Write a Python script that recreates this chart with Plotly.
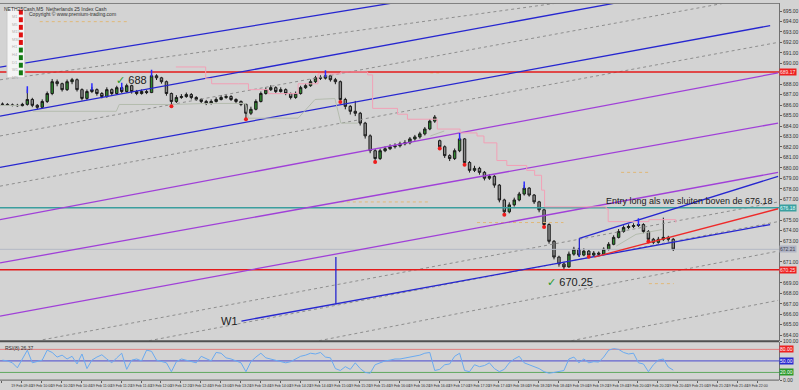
import plotly.graph_objects as go

# ---------------- data ----------------
closes = [686.07, 686.02, 685.98, 685.95, 686.07, 686.54, 685.98, 685.79, 686.35, 687.11,
          688.24, 688.05, 687.48, 688.24, 688.43, 687.48, 686.64, 687.30, 687.48, 687.11,
          686.82, 687.48, 687.11, 687.67, 687.30, 687.86, 687.30, 687.11, 687.30, 687.20,
          688.80, 688.61, 688.24, 687.11, 686.35, 686.73, 686.82, 687.01, 686.73, 686.54,
          686.35, 686.17, 686.35, 686.54, 686.73, 686.82, 686.54, 686.35, 686.07, 685.22,
          685.60, 686.35, 687.11, 687.48, 687.67, 687.30, 687.48, 687.11, 686.73, 687.11,
          687.67, 687.86, 688.24, 688.61, 688.58, 688.80, 688.43, 688.24, 686.54, 685.88,
          685.41, 685.22, 684.28, 683.06, 681.64, 680.89, 681.64, 681.83, 682.02, 682.11,
          682.30, 682.40, 682.77, 682.96, 683.25, 683.72, 684.47, 684.85, 682.02, 681.17,
          680.89, 681.64, 682.77, 680.51, 679.76, 679.95, 679.57, 679.01, 679.19, 678.35,
          676.93, 675.80, 676.46, 676.93, 677.50, 678.06, 677.40, 676.75, 675.99, 674.58,
          672.98, 671.47, 670.81, 670.53, 671.75, 672.22, 671.66, 672.04, 671.66, 671.85,
          671.75, 672.22, 672.69, 673.35, 673.92, 674.30, 674.39, 674.48, 674.58, 673.92,
          673.17, 672.88, 673.17, 673.35, 673.17, 672.22]
highs = [686.25, 686.18, 686.15, 686.12, 686.22, 687.48, 686.70, 686.10, 686.55, 687.30,
         688.50, 688.45, 688.15, 688.45, 688.60, 688.55, 687.60, 687.50, 687.75, 687.60,
         687.25, 687.70, 687.60, 687.85, 687.80, 688.05, 687.95, 687.45, 687.50, 687.45,
         689.05, 688.95, 688.70, 688.35, 687.20, 686.95, 687.05, 687.20, 687.15, 686.85,
         686.65, 686.50, 686.55, 686.75, 686.95, 687.05, 686.95, 686.65, 686.45, 686.15,
         685.85, 686.55, 687.30, 687.70, 687.90, 687.80, 687.70, 687.60, 687.20, 687.30,
         687.85, 688.05, 688.45, 688.80, 688.85, 689.00, 688.90, 688.60, 688.35, 686.70,
         686.00, 686.40, 685.35, 684.40, 683.20, 681.80, 681.85, 682.05, 682.25, 682.35,
         682.50, 682.65, 682.95, 683.15, 683.45, 683.90, 684.65, 685.05, 682.70, 682.15,
         681.30, 681.85, 683.00, 682.85, 680.65, 680.20, 680.10, 679.70, 679.40, 679.30,
         678.45, 677.05, 676.70, 677.15, 677.70, 678.35, 678.15, 677.50, 676.85, 676.10,
         674.70, 673.10, 671.60, 671.00, 672.00, 672.45, 672.35, 672.30, 672.15, 672.05,
         672.00, 672.40, 672.90, 673.55, 674.15, 674.50, 674.60, 674.70, 674.85, 674.70,
         674.05, 673.30, 673.40, 675.24, 673.50, 673.30]
lows = [685.95, 685.92, 685.88, 685.85, 685.88, 685.95, 685.80, 685.60, 685.70, 686.20,
        686.95, 687.80, 687.30, 687.35, 688.00, 687.30, 686.45, 686.50, 687.15, 686.90,
        686.65, 686.70, 686.95, 687.00, 687.15, 687.20, 687.10, 686.95, 687.00, 687.05,
        687.15, 688.40, 688.05, 686.90, 685.88, 686.20, 686.60, 686.70, 686.55, 686.40,
        686.20, 686.00, 686.05, 686.25, 686.45, 686.60, 686.40, 686.15, 685.90, 684.66,
        685.05, 685.50, 686.25, 687.00, 687.35, 687.15, 687.20, 686.95, 686.55, 686.60,
        687.00, 687.55, 687.75, 688.10, 688.40, 688.45, 688.25, 688.00, 686.30, 685.60,
        685.10, 684.95, 684.05, 682.80, 681.40, 680.55, 680.75, 681.50, 681.70, 681.85,
        681.95, 682.15, 682.25, 682.60, 682.80, 683.10, 683.60, 684.30, 681.85, 680.95,
        680.65, 680.75, 681.50, 680.30, 679.55, 679.60, 679.35, 678.80, 678.85, 678.10,
        676.70, 675.52, 675.65, 676.30, 676.80, 677.35, 677.25, 676.55, 675.75, 674.35,
        672.75, 671.25, 670.55, 670.25, 670.45, 671.60, 671.50, 671.55, 671.50, 671.55,
        671.55, 671.65, 672.10, 672.60, 673.25, 673.80, 674.15, 674.25, 674.35, 673.75,
        672.95, 672.70, 672.75, 673.00, 672.95, 672.05]
first_open = 686.10
gap_opens = {88: 682.60}

rsi = [52, 50, 45, 32, 55, 78, 45, 48, 52, 78,
       72, 60, 65, 55, 62, 42, 68, 30, 52, 60,
       66, 55, 45, 58, 70, 28, 52, 55, 50, 78,
       75, 52, 48, 45, 22, 48, 55, 52, 48, 45,
       62, 55, 50, 72, 70, 58, 55, 50, 45, 22,
       48, 60, 70, 58, 55, 52, 50, 45, 48, 55,
       62, 65, 70, 68, 72, 60, 58, 30, 25, 35,
       28, 45, 30, 20, 18, 40, 45, 50, 52, 55,
       55, 58, 60, 62, 65, 70, 72, 25, 28, 40,
       42, 62, 70, 25, 22, 40, 35, 38, 45, 30,
       22, 28, 45, 55, 62, 45, 40, 35, 30, 22,
       18, 20, 22, 25, 55, 60, 45, 55, 45, 48,
       47, 60, 78, 82, 80, 72, 68, 70, 45, 42,
       22, 40, 52, 55, 34, 26]

fractal_up = [5, 18, 24, 30, 65, 92, 105, 128]
fractal_down = [34, 49, 68, 75, 88, 93, 101, 109, 118, 130]

# trend lines: (bar0, price0, bar1, price1)
blue_lines = [(-0.5, 689.64, 156.3, 701.79), (-0.5, 684.94, 156.3, 698.64),
              (-0.5, 680.04, 154.5, 693.60), (48.1, 665.35, 154.5, 674.58),
              (67.1, 671.47, 67.1, 666.95), (116.1, 673.26, 156.1, 679.19),
              (116.1, 673.26, 116.1, 671.47)]
purple_lines = [(-0.5, 675.05, 156.1, 689.08), (-0.5, 670.91, 156.1, 684.28),
                (-0.5, 665.82, 156.1, 679.57)]
red_trend = [(119.1, 671.47, 156.1, 676.09)]
dotted_lines = [(-0.5, 688.42, 156.3, 698.68), (-0.5, 683.05, 156.3, 696.71),
                (-0.5, 678.25, 156.1, 692.00), (8.1, 663.56, 156.1, 676.74),
                (29.5, 663.47, 156.1, 674.86), (63.7, 663.47, 156.1, 672.04),
                (114.5, 663.47, 156.1, 667.33)]
pivot_lines = [(7.5, 693.98, 25.5, 693.98), (86.1, 689.08, 88.1, 689.08),
               (68.1, 676.74, 86.1, 676.74), (124.5, 679.57, 130.1, 679.57),
               (130.1, 668.93, 135.1, 668.93), (95.5, 674.77, 112.9, 674.77)]

pink_x = [34.9, 39.5, 40.9, 42.1, 47.5, 49.5, 53.5, 59.5, 63.5, 68.1, 73.5, 74.5, 79.5,
          81.5, 86.1, 87.5, 92.1, 95.5, 96.9, 99.5, 101.5, 105.5, 107.1, 108.5, 109.1,
          121.5, 121.9, 130.1, 135.5]
pink_p = [689.65, 689.65, 688.52, 688.04, 688.04, 687.48, 687.10, 688.04, 688.99, 689.17,
          688.89, 685.69, 685.13, 684.65, 684.65, 683.71, 683.34, 683.05, 682.39, 680.70,
          680.23, 679.76, 679.29, 677.87, 676.27, 676.08, 674.86, 675.05, 674.77]
base_x = [-0.5, 3.5, None, 6.1, 22.9, 23.5, 34.1, 40.9, 48.9, 49.5, 59.5, 62.9, 66.9,
          68.1, 71.5, None, 86.1, 88.9, None, 123.5, 127.5, 132.9]
base_p = [685.97, 685.97, None, 685.41, 685.41, 686.06, 686.06, 686.16, 686.16, 684.75,
          684.75, 686.54, 686.63, 684.28, 684.28, None, 683.05, 683.52, None, 672.51,
          673.64, 674.11]

level_top = 689.17
level_entry = 676.18
level_bid = 672.21
level_low = 670.25
rsi_levels = [80, 50, 20]

tf_labels = ["M1", "M5", "M15", "M30", "H1", "H4", "D1", "W1", "MN"]
tf_state = ["red", "red", "red", "red", "red", "green", "green", "green", "green"]

time_labels = ["19 Feb 2021", "19 Feb 09:40", "19 Feb 10:00", "19 Feb 10:20", "19 Feb 10:40",
               "19 Feb 11:00", "19 Feb 11:20", "19 Feb 11:40", "19 Feb 12:00", "19 Feb 12:20",
               "19 Feb 12:40", "19 Feb 13:00", "19 Feb 13:20", "19 Feb 13:40", "19 Feb 14:00",
               "19 Feb 14:20", "19 Feb 14:40", "19 Feb 15:00", "19 Feb 15:20", "19 Feb 15:40",
               "19 Feb 16:00", "19 Feb 16:20", "19 Feb 16:40", "19 Feb 17:00", "19 Feb 17:20",
               "19 Feb 17:40", "19 Feb 18:00", "19 Feb 18:20", "19 Feb 18:40", "19 Feb 19:00",
               "19 Feb 19:20", "19 Feb 19:40", "19 Feb 20:00", "19 Feb 20:20", "19 Feb 20:40",
               "19 Feb 21:00", "19 Feb 21:20", "19 Feb 21:40", "19 Feb 22:00"]

# ---------------- build ----------------
bars = list(range(len(closes)))
opens = [first_open] + closes[:-1]
for k, v in gap_opens.items():
    opens[k] = v

W, H = 799, 390
PLOT_R = 784
MAIN_BOT = 343
RSI_TOP, RSI_BOT = 344, 383
BG = "#d3d3d3"
FONT = "Liberation Sans, Arial, DejaVu Sans"
Y_RANGE = [663.47, 695.765]


def segs(lines):
    xs, ys = [], []
    for x0, p0, x1, p1 in lines:
        xs += [x0, x1, None]
        ys += [p0, p1, None]
    return xs, ys


fig = go.Figure()


def add_lines(lines, color, width=1.2, dash="solid", yaxis="y"):
    xs, ys = segs(lines)
    fig.add_trace(go.Scatter(x=xs, y=ys, mode="lines", yaxis=yaxis, hoverinfo="skip",
                             line=dict(color=color, width=width, dash=dash),
                             showlegend=False))


x_range = [-0.5, -0.5 + PLOT_R / 5.0]

add_lines(dotted_lines, "#8e8e8e", 1, "dot")
add_lines(pivot_lines, "#e0b878", 1, "dot")
for lv, col in [(level_bid, "#b4b8c4"), (level_entry, "#3a9e9e"), (level_top, "#e41a1a"),
                (level_low, "#e41a1a")]:
    fig.add_trace(go.Scatter(x=x_range, y=[lv, lv], mode="lines", hoverinfo="skip",
                             line=dict(color=col, width=1.5 if col != "#b4b8c4" else 1),
                             showlegend=False))
add_lines(purple_lines, "#a040d8", 1.3)
add_lines(blue_lines, "#2626d0", 1.3)
add_lines(red_trend, "#ee2a2a", 1.3)

fig.add_trace(go.Scatter(x=pink_x, y=pink_p, mode="lines", line_shape="hv",
                         line=dict(color="#f2a0b6", width=1), hoverinfo="skip",
                         showlegend=False))
fig.add_trace(go.Scatter(x=base_x, y=base_p, mode="lines", connectgaps=False,
                         line=dict(color="#b4bcae", width=1), hoverinfo="skip",
                         showlegend=False))

fig.add_trace(go.Candlestick(
    x=bars, open=opens, high=highs, low=lows, close=closes,
    increasing=dict(line=dict(color="#1c1c1c", width=1), fillcolor="#2f8a2f"),
    decreasing=dict(line=dict(color="#1c1c1c", width=1), fillcolor="#8c8c8c"),
    whiskerwidth=0, showlegend=False, hoverinfo="skip"))

fig.add_trace(go.Scatter(x=fractal_up, y=[highs[i] for i in fractal_up], mode="markers",
                         marker=dict(symbol="line-ns", size=5, line=dict(color="#2a2aff", width=1.5)),
                         showlegend=False, hoverinfo="skip"))
fig.add_trace(go.Scatter(x=fractal_down, y=[lows[i] for i in fractal_down], mode="markers",
                         marker=dict(symbol="circle", size=4, color="#ee1c1c"),
                         showlegend=False, hoverinfo="skip"))

# RSI
for lv, col in zip(rsi_levels, ["#e08080", "#4848d0", "#60a860"]):
    fig.add_trace(go.Scatter(x=x_range, y=[lv, lv], yaxis="y2", mode="lines",
                             line=dict(color=col, width=1), hoverinfo="skip", showlegend=False))
fig.add_trace(go.Scatter(x=bars, y=rsi, yaxis="y2", mode="lines",
                         line=dict(color="#6aaaf0", width=1), hoverinfo="skip", showlegend=False))


def py(p):
    return 1 - p / H


annotations = []
annotations.append(dict(x=26.0, y=688.42, xref="x", yref="y", showarrow=False,
                        text="<span style='color:#2a9a2a'>✓</span> 688",
                        font=dict(size=11, color="#202020", family=FONT)))
annotations.append(dict(x=114.3, y=669.12, xref="x", yref="y", showarrow=False,
                        text="<span style='color:#2a9a2a'>✓</span> 670.25",
                        font=dict(size=11, color="#202020", family=FONT)))
annotations.append(dict(x=138.3, y=676.84, xref="x", yref="y", showarrow=False,
                        text="Entry long als we sluiten boven de 676.18",
                        font=dict(size=9, color="#202020", family=FONT)))
annotations.append(dict(x=45.7, y=665.35, xref="x", yref="y", showarrow=False,
                        text="W1", font=dict(size=11, color="#202020", family=FONT)))
annotations.append(dict(x=2 / W, y=py(1), xref="paper", yref="paper", xanchor="left",
                        yanchor="top", showarrow=False,
                        text="NETH25Cash,M5  Netherlands 25 Index Cash",
                        font=dict(size=5, color="#303030", family=FONT)))
annotations.append(dict(x=27 / W, y=py(6), xref="paper", yref="paper", xanchor="left",
                        yanchor="top", showarrow=False,
                        text="Copyright © www.premium-trading.com",
                        font=dict(size=5, color="#303030", family=FONT)))
levels_main = [level_top, level_entry, level_bid, level_low]
for lv, col, txt_col in zip(levels_main, ["#ee2020", "#3aa0a0", "#b0b4c4", "#ee2020"],
                            ["#ffe0e0", "#e0ffff", "#404050", "#ffe0e0"]):
    annotations.append(dict(x=PLOT_R / W, y=lv, xref="paper", yref="y", xanchor="left",
                            showarrow=False, text=f"{lv:.2f}", bgcolor=col, borderpad=0,
                            font=dict(size=5, color=txt_col, family=FONT)))
for lv, col in zip(rsi_levels, ["#ee2020", "#2a2ad0", "#2a9a2a"]):
    annotations.append(dict(x=PLOT_R / W, y=lv, xref="paper", yref="y2", xanchor="left",
                            showarrow=False, text=f"{lv:.2f}", bgcolor=col, borderpad=0,
                            font=dict(size=5, color="#ffffff", family=FONT)))
annotations.append(dict(x=3 / W, y=py(RSI_TOP + 1), xref="paper", yref="paper", xanchor="left",
                        yanchor="top", showarrow=False, text="RSI(8) 26.37",
                        font=dict(size=5, color="#303030", family=FONT)))

shapes = [dict(type="rect", xref="paper", yref="paper", x0=7 / W, x1=25 / W, y0=py(76), y1=py(5),
               fillcolor="#f4f4f4", line=dict(color="#c8c8c8", width=1), layer="above")]
for k, (lab, st) in enumerate(zip(tf_labels, tf_state)):
    yc = 9.3 + k * 7.7
    annotations.append(dict(x=10 / W, y=py(yc), xref="paper", yref="paper", xanchor="left",
                            showarrow=False, text=lab,
                            font=dict(size=4, color="#b0b0b0", family=FONT)))
    shapes.append(dict(type="rect", xref="paper", yref="paper", x0=19 / W, x1=23 / W,
                       y0=py(yc + 2.5), y1=py(yc - 2.5), layer="above",
                       fillcolor="#e01010" if st == "red" else "#127a12", line=dict(width=0)))
shapes.append(dict(type="line", xref="paper", yref="paper", x0=0, x1=PLOT_R / W,
                   y0=py(MAIN_BOT + 0.5), y1=py(MAIN_BOT + 0.5), line=dict(color="#505050", width=2)))
shapes.append(dict(type="line", xref="paper", yref="paper", x0=0, x1=PLOT_R / W,
                   y0=py(RSI_BOT), y1=py(RSI_BOT), line=dict(color="#606060", width=1)))
shapes.append(dict(type="line", xref="paper", yref="paper", x0=0, x1=PLOT_R / W,
                   y0=py(0.5), y1=py(0.5), line=dict(color="#808080", width=1)))

tickvals = [k * 4 - 0.1 for k in range(len(time_labels))]
# price ticks every 1.0, skipping the ones hidden under the level boxes
y_ticks = [v for v in range(664, 696) if all(abs(v - lv) > 0.6 for lv in levels_main)]

fig.update_layout(
    width=W, height=H, margin=dict(l=0, r=0, t=0, b=0),
    paper_bgcolor=BG, plot_bgcolor=BG, showlegend=False,
    font=dict(family=FONT, size=5, color="#303030"),
    annotations=annotations, shapes=shapes,
    xaxis=dict(domain=[0, PLOT_R / W], range=x_range, anchor="y2", showgrid=False,
               zeroline=False, rangeslider=dict(visible=False), tickmode="array",
               tickvals=tickvals, ticktext=time_labels, tickangle=0,
               tickfont=dict(size=3.6, color="#303030"), ticks="outside", ticklen=2,
               tickcolor="#606060", showline=False),
    yaxis=dict(domain=[1 - MAIN_BOT / H, 1], range=Y_RANGE, side="right", anchor="x",
               showgrid=False, zeroline=False, tickmode="array", tickvals=y_ticks,
               ticktext=[f"{v:.2f}" for v in y_ticks],
               tickfont=dict(size=5, color="#303030"), ticks="outside", ticklen=2,
               tickcolor="#606060", showline=True, linecolor="#707070", linewidth=1),
    yaxis2=dict(domain=[1 - RSI_BOT / H, 1 - RSI_TOP / H], range=[0, 100], side="right",
                anchor="x", showgrid=False, zeroline=False, tickmode="array",
                tickvals=[0, 100], ticktext=["0.00", "100.00"],
                tickfont=dict(size=5, color="#303030"), ticks="outside", ticklen=2,
                tickcolor="#606060", showline=True, linecolor="#707070", linewidth=1),
)

fig.write_html("out.html")
